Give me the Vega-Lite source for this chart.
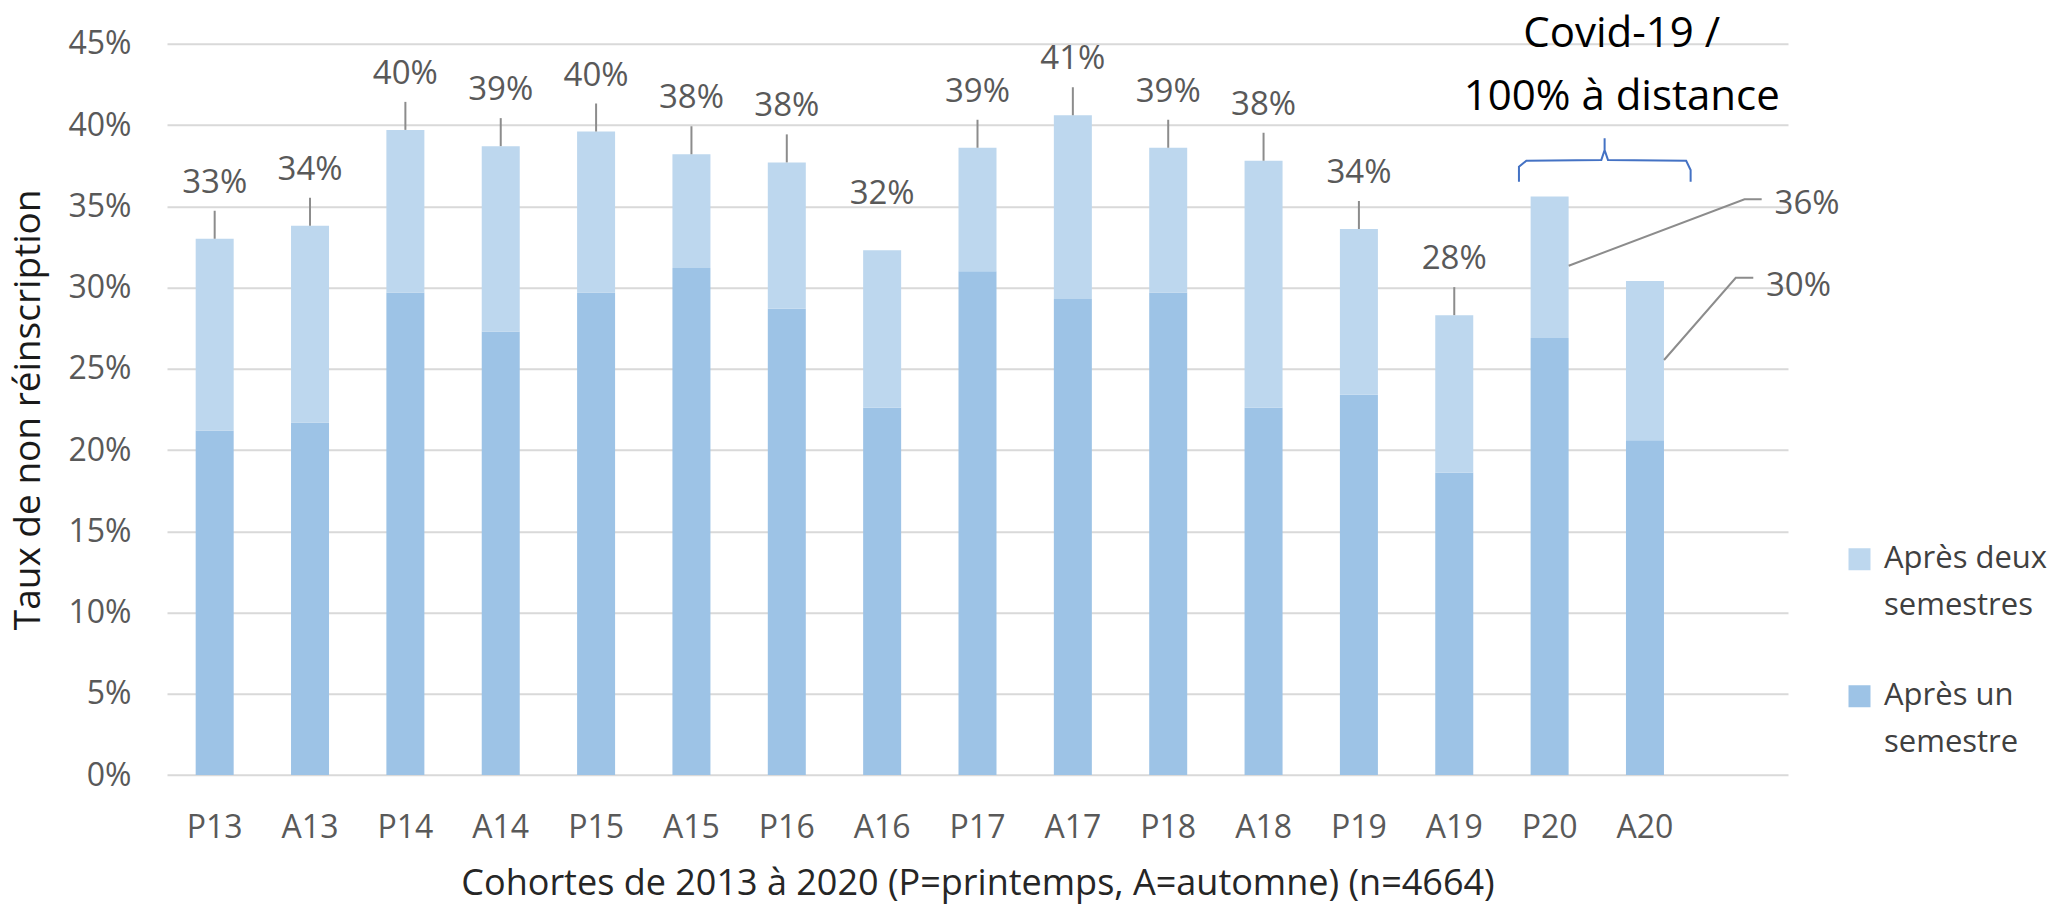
{
  "$schema": "https://vega.github.io/schema/vega-lite/v6.json",
  "width": 1621,
  "height": 731.25,
  "autosize": {"type": "none"},
  "padding": {"left": 167, "top": 43.75, "right": 264, "bottom": 134},
  "background": "white",
  "config": {
    "view": {"stroke": null},
    "font": "Open Sans",
    "style": {"guide-label": {"lineHeight": 47}}
  },
  "datasets": {
    "cohortes": [
      {"cohorte": "P13", "un": 0.212, "total": 0.330},
      {"cohorte": "A13", "un": 0.217, "total": 0.338},
      {"cohorte": "P14", "un": 0.297, "total": 0.397},
      {"cohorte": "A14", "un": 0.273, "total": 0.387},
      {"cohorte": "P15", "un": 0.297, "total": 0.396},
      {"cohorte": "A15", "un": 0.312, "total": 0.382},
      {"cohorte": "P16", "un": 0.287, "total": 0.377},
      {"cohorte": "A16", "un": 0.226, "total": 0.323},
      {"cohorte": "P17", "un": 0.310, "total": 0.386},
      {"cohorte": "A17", "un": 0.293, "total": 0.406},
      {"cohorte": "P18", "un": 0.297, "total": 0.386},
      {"cohorte": "A18", "un": 0.226, "total": 0.378},
      {"cohorte": "P19", "un": 0.234, "total": 0.336},
      {"cohorte": "A19", "un": 0.186, "total": 0.283},
      {"cohorte": "P20", "un": 0.269, "total": 0.356},
      {"cohorte": "A20", "un": 0.206, "total": 0.304}
    ],
    "rappels": [
      {"groupe": "P20", "cohorte": "P20", "pos": 1.0, "val": 0.3134, "ordre": 1},
      {"groupe": "P20", "cohorte": "P20", "pos": 5.61, "val": 0.3543, "ordre": 2},
      {"groupe": "P20", "cohorte": "P20", "pos": 6.06, "val": 0.3543, "ordre": 3},
      {"groupe": "A20", "cohorte": "A20", "pos": 1.0, "val": 0.2554, "ordre": 1},
      {"groupe": "A20", "cohorte": "A20", "pos": 2.88, "val": 0.306, "ordre": 2},
      {"groupe": "A20", "cohorte": "A20", "pos": 3.34, "val": 0.306, "ordre": 3}
    ],
    "accolade": [
      {"cohorte": "P20", "pos": -0.304, "val": 0.3651, "ordre": 1},
      {"cohorte": "P20", "pos": -0.304, "val": 0.3743, "ordre": 2},
      {"cohorte": "P20", "pos": -0.11, "val": 0.3780, "ordre": 3},
      {"cohorte": "P20", "pos": 1.856, "val": 0.3785, "ordre": 4},
      {"cohorte": "P20", "pos": 1.942, "val": 0.3846, "ordre": 5},
      {"cohorte": "P20", "pos": 1.942, "val": 0.3918, "ordre": 6},
      {"cohorte": "P20", "pos": 1.942, "val": 0.3846, "ordre": 7},
      {"cohorte": "P20", "pos": 2.03, "val": 0.3785, "ordre": 8},
      {"cohorte": "P20", "pos": 4.08, "val": 0.3780, "ordre": 9},
      {"cohorte": "P20", "pos": 4.197, "val": 0.3723, "ordre": 10},
      {"cohorte": "P20", "pos": 4.197, "val": 0.3651, "ordre": 11}
    ]
  },
  "layer": [
    {
      "data": {"name": "cohortes"},
      "mark": {"type": "bar", "width": 38},
      "encoding": {
        "x": {
          "field": "cohorte", "type": "nominal", "sort": null,
          "scale": {
            "domain": ["P13","A13","P14","A14","P15","A15","P16","A16","P17","A17","P18","A18","P19","A19","P20","A20"," "],
            "paddingInner": 0.6, "paddingOuter": 0.3
          },
          "axis": {
            "title": "Cohortes de 2013 à 2020  (P=printemps, A=automne) (n=4664)",
            "labelAngle": 0, "ticks": false, "domain": false,
            "labelFont": "Open Sans", "labelFontSize": 32, "labelColor": "#595959", "labelPadding": 37,
            "titleFont": "Open Sans", "titleFontSize": 36, "titleFontWeight": "normal", "titleColor": "#262626",
            "titlePadding": 23
          }
        },
        "y": {
          "field": "un", "type": "quantitative",
          "scale": {"domain": [0, 0.45], "nice": false},
          "axis": {
            "title": "Taux de non réinscription",
            "values": [0, 0.05, 0.1, 0.15, 0.2, 0.25, 0.3, 0.35, 0.4, 0.45],
            "format": ".0%", "grid": true, "gridColor": "#D9D9D9", "gridWidth": 2,
            "domain": false, "ticks": false,
            "labelFont": "Open Sans", "labelFontSize": 32, "labelColor": "#595959", "labelPadding": 36,
            "titleFont": "Open Sans", "titleFontSize": 37, "titleFontWeight": "normal", "titleColor": "#1a1a1a",
            "titlePadding": 20
          }
        },
        "color": {
          "datum": "Après un semestre", "type": "nominal",
          "scale": {"domain": ["Après deux semestres", "Après un semestre"], "range": ["#BDD7EE", "#9DC3E6"]},
          "legend": {
            "title": null, "orient": "none", "legendX": 1677, "legendY": 500,
            "symbolType": "square", "symbolSize": 484, "symbolStrokeWidth": 0,
            "labelFont": "Open Sans", "labelFontSize": 31, "labelColor": "#404040",
            "labelOffset": 9, "rowPadding": 58, "labelBaseline": "middle", "padding": 0, "labelLimit": 400,
            "labelExpr": "datum.value == 'Après deux semestres' ? ['Après deux', 'semestres'] : ['Après un', 'semestre']"
          }
        }
      }
    },
    {
      "data": {"name": "cohortes"},
      "mark": {"type": "bar", "width": 38},
      "encoding": {
        "x": {"field": "cohorte", "type": "nominal", "sort": null},
        "y": {"field": "un", "type": "quantitative"},
        "y2": {"field": "total"},
        "color": {"datum": "Après deux semestres", "type": "nominal"}
      }
    },
    {
      "data": {"name": "cohortes"},
      "transform": [{"filter": "indexof(['A16','P20','A20'], datum.cohorte) < 0"}],
      "mark": {"type": "rule", "color": "#8C8C8C", "strokeWidth": 2, "y2Offset": -28},
      "encoding": {
        "x": {"field": "cohorte", "type": "nominal", "sort": null},
        "y": {"field": "total", "type": "quantitative"},
        "y2": {"field": "total"}
      }
    },
    {
      "data": {"name": "cohortes"},
      "transform": [{"filter": "indexof(['P20','A20'], datum.cohorte) < 0"}],
      "mark": {"type": "text", "dy": -46, "baseline": "alphabetic", "align": "center", "font": "Open Sans", "fontSize": 33, "color": "#595959"},
      "encoding": {
        "x": {"field": "cohorte", "type": "nominal", "sort": null},
        "y": {"field": "total", "type": "quantitative"},
        "text": {"field": "total", "type": "quantitative", "format": ".0%"}
      }
    },
    {
      "data": {"name": "cohortes"},
      "transform": [{"filter": "datum.cohorte == 'P20'"}],
      "mark": {"type": "text", "dx": 225, "dy": 17, "baseline": "alphabetic", "align": "left", "font": "Open Sans", "fontSize": 33, "color": "#595959"},
      "encoding": {
        "x": {"field": "cohorte", "type": "nominal", "sort": null},
        "y": {"field": "total", "type": "quantitative"},
        "text": {"field": "total", "type": "quantitative", "format": ".0%"}
      }
    },
    {
      "data": {"name": "cohortes"},
      "transform": [{"filter": "datum.cohorte == 'A20'"}],
      "mark": {"type": "text", "dx": 121, "dy": 15, "baseline": "alphabetic", "align": "left", "font": "Open Sans", "fontSize": 33, "color": "#595959"},
      "encoding": {
        "x": {"field": "cohorte", "type": "nominal", "sort": null},
        "y": {"field": "total", "type": "quantitative"},
        "text": {"field": "total", "type": "quantitative", "format": ".0%"}
      }
    },
    {
      "data": {"name": "rappels"},
      "mark": {"type": "line", "color": "#8C8C8C", "strokeWidth": 2},
      "encoding": {
        "x": {"field": "cohorte", "type": "nominal", "sort": null},
        "xOffset": {"field": "pos", "type": "quantitative", "scale": {"domain": [0, 1], "nice": false, "zero": false}},
        "y": {"field": "val", "type": "quantitative"},
        "detail": {"field": "groupe", "type": "nominal"},
        "order": {"field": "ordre", "type": "quantitative"}
      }
    },
    {
      "data": {"name": "accolade"},
      "mark": {"type": "line", "color": "#4472C4", "strokeWidth": 2},
      "encoding": {
        "x": {"field": "cohorte", "type": "nominal", "sort": null},
        "xOffset": {"field": "pos", "type": "quantitative"},
        "y": {"field": "val", "type": "quantitative"},
        "order": {"field": "ordre", "type": "quantitative"}
      }
    },
    {
      "data": {"values": [{}]},
      "mark": {"type": "text", "text": ["Covid-19 /", "100% à distance"], "align": "center", "baseline": "alphabetic", "lineHeight": 63, "font": "Open Sans", "fontSize": 42, "color": "#000000"},
      "encoding": {
        "x": {"datum": "P20", "type": "nominal"},
        "xOffset": {"datum": 2.39, "type": "quantitative"},
        "y": {"datum": 0.448, "type": "quantitative"}
      }
    }
  ]
}
